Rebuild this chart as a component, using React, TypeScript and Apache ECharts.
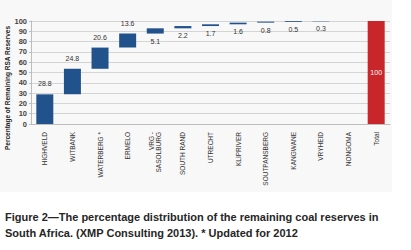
import React, { useEffect, useRef } from "react";
import * as echarts from "echarts";

const categories = [
  "HIGHVELD",
  "WITBANK",
  "WATERBERG *",
  "ERMELO",
  "VRG -\nSASOLBURG",
  "SOUTH RAND",
  "UTRECHT",
  "KLIPRIVER",
  "SOUTPANSBERG",
  "KANGWANE",
  "VRYHEID",
  "NONGOMA",
  "Total",
];
const shares = [28.8, 24.8, 20.6, 13.6, 5.1, 2.2, 1.7, 1.6, 0.8, 0.5, 0.3, 0];
const totalValue = 100;
const labelAboveCount = 4;
const yTicks = { min: 0, max: 100, interval: 10 };
const yAxisTitle = "Percentage of Remaining RSA Reserves";
const captionLines = [
  "Figure 2\u2014The percentage distribution of the remaining coal reserves in",
  "South Africa. (XMP Consulting 2013). * Updated for 2012",
];

const BLUE = "#22528c";
const RED = "#c8262b";
const FONT = "'Liberation Sans', Arial, sans-serif";

export default function App() {
  const ref = useRef<HTMLDivElement>(null);
  useEffect(() => {
    if (!ref.current) return;
    const chart = echarts.init(ref.current, null, { renderer: "svg" });

    const bases: number[] = [];
    let acc = 0;
    shares.forEach((v) => {
      bases.push(acc);
      acc += v;
    });
    bases.push(0);

    const visible = shares.map((v, i) => ({
      value: v === 0 ? "-" : v,
      itemStyle: { color: BLUE },
      label: {
        show: v !== 0,
        position: i < labelAboveCount ? "top" : "bottom",
        distance: i < labelAboveCount ? 7 : 4,
        color: "#333",
        fontSize: 7,
        fontFamily: FONT,
      },
    }));
    visible.push({
      value: totalValue as any,
      itemStyle: { color: RED },
      label: {
        show: true,
        position: "inside" as any,
        distance: 0,
        color: "#ffffff",
        fontSize: 7,
        fontFamily: FONT,
      },
    });

    chart.setOption({
      animation: false,
      backgroundColor: "#ffffff",
      textStyle: { fontFamily: FONT },
      grid: { left: 31, right: 21, top: 21, bottom: 126, containLabel: false },
      xAxis: {
        type: "category",
        data: categories,
        axisLine: { show: true, lineStyle: { color: "#bdbdbd", width: 1 } },
        axisTick: { show: false },
        axisLabel: {
          rotate: 90,
          margin: 8,
          fontSize: 6.5,
          lineHeight: 7,
          color: "#333",
          fontFamily: FONT,
          interval: 0,
        },
      },
      yAxis: {
        type: "value",
        min: yTicks.min,
        max: yTicks.max,
        interval: yTicks.interval,
        axisLine: { show: true, lineStyle: { color: "#bdbdbd", width: 1 } },
        axisTick: { show: true, length: 2, lineStyle: { color: "#bdbdbd" } },
        axisLabel: {
          fontSize: 7.5,
          fontWeight: "bold",
          color: "#444",
          margin: 4,
          fontFamily: FONT,
        },
        splitLine: { show: true, lineStyle: { color: "#d4d4d4", width: 1 } },
      },
      series: [
        {
          type: "bar",
          stack: "w",
          data: bases,
          itemStyle: { color: "transparent" },
          silent: true,
          barWidth: 17,
        },
        {
          type: "bar",
          stack: "w",
          data: visible,
          barWidth: 17,
          barMinHeight: 1,
        },
      ],
      graphic: [
        {
          type: "rect",
          z: -10,
          silent: true,
          shape: { x: 0, y: 0, width: 392, height: 192 },
          style: { fill: "#f8f8f8" },
        },
        {
          type: "text",
          x: 7,
          y: 88,
          rotation: Math.PI / 2,
          style: {
            text: yAxisTitle,
            fontSize: 6.5,
            fontWeight: "bold",
            fill: "#222",
            fontFamily: FONT,
            align: "center",
            verticalAlign: "middle",
          },
        },
        {
          type: "text",
          x: 5,
          y: 217,
          style: {
            text: captionLines[0],
            fontSize: 11,
            fontWeight: "bold",
            fill: "#262626",
            fontFamily: FONT,
            align: "left",
            verticalAlign: "middle",
          },
        },
        {
          type: "text",
          x: 5,
          y: 233,
          style: {
            text: captionLines[1],
            fontSize: 11,
            fontWeight: "bold",
            fill: "#262626",
            fontFamily: FONT,
            align: "left",
            verticalAlign: "middle",
          },
        },
      ],
    });
    return () => chart.dispose();
  }, []);

  return (
    <div
      ref={ref}
      style={{ position: "absolute", left: 0, top: 0, width: 411, height: 250 }}
    />
  );
}
